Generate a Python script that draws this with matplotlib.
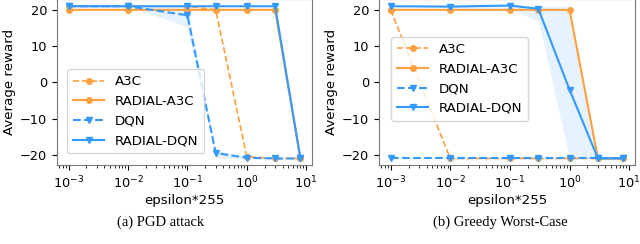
import numpy as np
import matplotlib.pyplot as plt

# epsilon*255 values
eps = [1e-3, 1e-2, 1e-1, 0.3, 1, 3, 8]

# (a) PGD attack
pgd_a3c = [21, 21, 21, 20, -20.5, -21, -21]
pgd_radial_a3c = [20, 20, 20, 20, 20, 20, -21]
pgd_dqn = [21, 21, 18.5, -19.5, -20.8, -21, -21]
pgd_radial_dqn = [21, 21, 21, 21, 21, 21, -21]
pgd_dqn_lo = [21, 21, 15.3, -21, -21, -21, -21]
pgd_dqn_hi = [21, 21, 21, -18.8, -20.5, -21, -21]

# (b) Greedy worst-case
gwc_a3c = [20, -21, -21, -21, -21, -21, -21]
gwc_radial_a3c = [20, 20, 20, 20, 20, -21, -21]
gwc_dqn = [-21, -21, -21, -21, -21, -21, -21]
gwc_radial_dqn = [21, 20.9, 21.2, 20.3, -2, -21, -21]
gwc_rdqn_lo = [21, 20.6, 20, 17, -21, -21, -21]
gwc_rdqn_hi = [21, 21.2, 21.4, 21, 21, -21, -21]

orange = '#ffa040'
blue = '#3399ff'

fig = plt.figure(figsize=(6.4, 2.44), dpi=100)
ax1 = fig.add_axes([57/640, 79/244, 255/640, 166/244])
ax2 = fig.add_axes([379/640, 79/244, 256/640, 166/244])


def draw(ax, a3c, ra3c, dqn, rdqn, lo, hi, legend_anchor):
    ax.fill_between(eps, lo, hi, color=blue, alpha=0.12, linewidth=0)
    ax.plot(eps, a3c, '--', color=orange, marker='o', ms=4, lw=1.2, label='A3C')
    ax.plot(eps, ra3c, '-', color=orange, marker='o', ms=4, lw=1.5, label='RADIAL-A3C')
    ax.plot(eps, dqn, '--', color=blue, marker='v', ms=4, lw=1.5, label='DQN')
    ax.plot(eps, rdqn, '-', color=blue, marker='v', ms=4, lw=1.5, label='RADIAL-DQN')
    ax.set_xscale('log')
    ax.set_ylim(-22.8, 23.0)
    ax.set_yticks([-20, -10, 0, 10, 20])
    ax.tick_params(labelsize=9.3)
    ax.set_xlabel('epsilon*255', fontsize=9.6, labelpad=2)
    ax.set_ylabel('Average reward', fontsize=9.6, labelpad=3)
    for s in ax.spines.values():
        s.set_color('#777777')
    ax.legend(loc='lower left', bbox_to_anchor=legend_anchor, fontsize=9.6,
              handlelength=2.3, borderpad=0.45, labelspacing=0.5)


draw(ax1, pgd_a3c, pgd_radial_a3c, pgd_dqn, pgd_radial_dqn,
     pgd_dqn_lo, pgd_dqn_hi, (0.015, 0.03))
draw(ax2, gwc_a3c, gwc_radial_a3c, gwc_dqn, gwc_radial_dqn,
     gwc_rdqn_lo, gwc_rdqn_hi, (0.022, 0.225))

fig.text(161/640, 1 - 222/244, '(a) PGD attack', family='Liberation Serif',
         fontsize=10.5, ha='center', va='center')
fig.text(500/640, 1 - 222/244, '(b) Greedy Worst-Case', family='Liberation Serif',
         fontsize=10.5, ha='center', va='center')

fig.savefig('out.png', dpi=100)
